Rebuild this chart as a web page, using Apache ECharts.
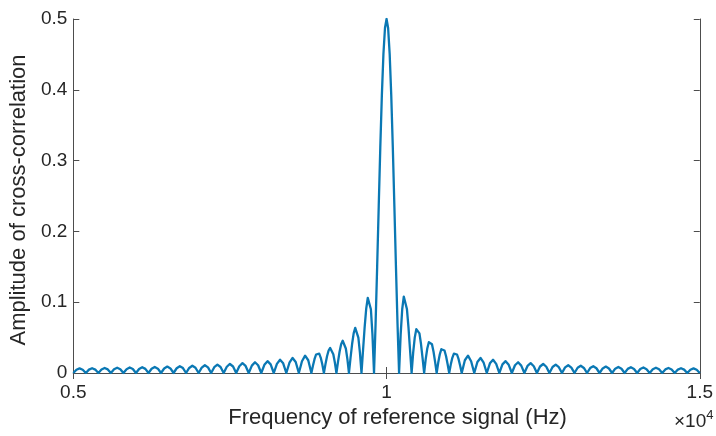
<!DOCTYPE html>
<html>
<head>
<meta charset="utf-8">
<script src="https://cdn.jsdelivr.net/npm/echarts@6/dist/echarts.min.js"></script>
<style>
  html, body { margin: 0; padding: 0; background: #fff; }
  #chart { width: 716px; height: 436px; }
</style>
</head>
<body>
<div id="chart"></div>
<script>
// Cross-correlation magnitude versus reference-signal frequency (Hz), one lobe per row.
const freqHz = [
  5000, 5050, 5100, 5150,
  5200, 5250, 5300, 5350,
  5400, 5450, 5500, 5550,
  5600, 5650, 5700, 5750,
  5800, 5850, 5900, 5950,
  6000, 6050, 6100, 6150,
  6200, 6250, 6300, 6350,
  6400, 6450, 6500, 6550,
  6600, 6650, 6700, 6750,
  6800, 6850, 6900, 6950,
  7000, 7050, 7100, 7150,
  7200, 7250, 7300, 7350,
  7400, 7450, 7500, 7550,
  7600, 7650, 7700, 7750,
  7800, 7850, 7900, 7950,
  8000, 8050, 8100, 8150,
  8200, 8250, 8300, 8350,
  8400, 8450, 8500, 8550,
  8600, 8650, 8700, 8750,
  8800, 8825, 8850, 8875, 8900, 8925, 8950, 8975,
  9000, 9025, 9050, 9075, 9100, 9125, 9150, 9175,
  9200, 9225, 9250, 9275, 9300, 9325, 9350, 9375,
  9400, 9425, 9450, 9475, 9500, 9525, 9550, 9575,
  9600, 9625, 9650, 9675, 9700, 9725, 9750, 9775,
  9800, 9825, 9850, 9875, 9900, 9925, 9950, 9975,
  10000, 10025, 10050, 10075, 10100, 10125, 10150, 10175,
  10200, 10225, 10250, 10275, 10300, 10325, 10350, 10375,
  10400, 10425, 10450, 10475, 10500, 10525, 10550, 10575,
  10600, 10625, 10650, 10675, 10700, 10725, 10750, 10775,
  10800, 10825, 10850, 10875, 10900, 10925, 10950, 10975,
  11000, 11025, 11050, 11075, 11100, 11125, 11150, 11175,
  11200, 11250, 11300, 11350,
  11400, 11450, 11500, 11550,
  11600, 11650, 11700, 11750,
  11800, 11850, 11900, 11950,
  12000, 12050, 12100, 12150,
  12200, 12250, 12300, 12350,
  12400, 12450, 12500, 12550,
  12600, 12650, 12700, 12750,
  12800, 12850, 12900, 12950,
  13000, 13050, 13100, 13150,
  13200, 13250, 13300, 13350,
  13400, 13450, 13500, 13550,
  13600, 13650, 13700, 13750,
  13800, 13850, 13900, 13950,
  14000, 14050, 14100, 14150,
  14200, 14250, 14300, 14350,
  14400, 14450, 14500, 14550,
  14600, 14650, 14700, 14750,
  14800, 14850, 14900, 14950,
  15000
];

const amplitude = [
  0, 0.004547, 0.006496, 0.004641,
  0, 0.004739, 0.006773, 0.004840,
  0, 0.004947, 0.007074, 0.005058,
  0, 0.005174, 0.007403, 0.005296,
  0, 0.005424, 0.007764, 0.005558,
  0, 0.005698, 0.008162, 0.005846,
  0, 0.006002, 0.008603, 0.006167,
  0, 0.006340, 0.009095, 0.006524,
  0, 0.006719, 0.009646, 0.006926,
  0, 0.007145, 0.010268, 0.007380,
  0, 0.007630, 0.010976, 0.007898,
  0, 0.008185, 0.011789, 0.008494,
  0, 0.008827, 0.012732, 0.009187,
  0, 0.009578, 0.013840, 0.010004,
  0, 0.010469, 0.015158, 0.010980,
  0, 0.011542, 0.016753, 0.012166,
  0, 0.012862, 0.018724, 0.013641,
  0, 0.01452, 0.021221, 0.01552,
  0, 0.01667, 0.024485, 0.01801,
  0, 0.01037, 0.01957, 0.02614, 0.028937, 0.02736, 0.02144, 0.01188,
  0, 0.01249, 0.02369, 0.03179, 0.035368, 0.03361, 0.02648, 0.01476,
  0, 0.01572, 0.03001, 0.04056, 0.045473, 0.04357, 0.03463, 0.01949,
  0, 0.02118, 0.04092, 0.05602, 0.063662, 0.06191, 0.05002, 0.02866,
  0, 0.03248, 0.06431, 0.09049, 0.106103, 0.10694, 0.09003, 0.05414,
  0, 0.06961, 0.15005, 0.23527, 0.31831, 0.39211, 0.45016, 0.48724,
  0.5, 0.48724, 0.45016, 0.39211, 0.31831, 0.23527, 0.15005, 0.06961,
  0, 0.05414, 0.09003, 0.10794, 0.10810, 0.09049, 0.06431, 0.03248,
  0, 0.02866, 0.05002, 0.06191, 0.063662, 0.05602, 0.04092, 0.02118,
  0, 0.01949, 0.03463, 0.04357, 0.045473, 0.04056, 0.03001, 0.01572,
  0, 0.01476, 0.02648, 0.03361, 0.035368, 0.03179, 0.02369, 0.01249,
  0, 0.01188, 0.02144, 0.02736, 0.028937, 0.02614, 0.01957, 0.01037,
  0, 0.01801, 0.024485, 0.01667,
  0, 0.01552, 0.021221, 0.01452,
  0, 0.013641, 0.018724, 0.012862,
  0, 0.012166, 0.016753, 0.011542,
  0, 0.010980, 0.015158, 0.010469,
  0, 0.010004, 0.013840, 0.009578,
  0, 0.009187, 0.012732, 0.008827,
  0, 0.008494, 0.011789, 0.008185,
  0, 0.007898, 0.010976, 0.007630,
  0, 0.007380, 0.010268, 0.007145,
  0, 0.006926, 0.009646, 0.006719,
  0, 0.006524, 0.009095, 0.006340,
  0, 0.006167, 0.008603, 0.006002,
  0, 0.005846, 0.008162, 0.005698,
  0, 0.005558, 0.007764, 0.005424,
  0, 0.005296, 0.007403, 0.005174,
  0, 0.005058, 0.007074, 0.004947,
  0, 0.004840, 0.006773, 0.004739,
  0, 0.004641, 0.006496, 0.004547,
  0
];

const xTickValues = [5000, 10000, 15000];
const yTickValues = [0, 0.1, 0.2, 0.3, 0.4, 0.5];

const xTitle = 'Frequency of reference signal (Hz)';
const yTitle = 'Amplitude of cross-correlation';
const xScaleNote = { base: '\u00d710', exp: '4' };

const FONT = '"Liberation Sans", Arial, Helvetica, sans-serif';
const AXIS_COLOR = '#4d4d4d';
const TEXT_COLOR = '#262626';
const LINE_COLOR = '#0a78b4';

const points = freqHz.map((f, i) => [f, amplitude[i]]);

const chart = echarts.init(document.getElementById('chart'), null, { renderer: 'canvas' });

const boxAxis = {
  axisLine: { show: true, lineStyle: { color: AXIS_COLOR, width: 1 } },
  axisTick: { show: true, inside: true, length: 6, lineStyle: { color: AXIS_COLOR, width: 1 } },
  splitLine: { show: false }
};

chart.setOption({
  backgroundColor: '#ffffff',
  animation: false,
  grid: { left: 73, top: 19, width: 629, height: 354, containLabel: false },
  xAxis: [
    Object.assign({
      type: 'value',
      min: xTickValues[0],
      max: xTickValues[xTickValues.length - 1],
      interval: xTickValues[1] - xTickValues[0],
      position: 'bottom',
      name: xTitle,
      nameLocation: 'middle',
      nameGap: 32,
      nameTextStyle: { fontFamily: FONT, fontSize: 22, color: TEXT_COLOR, padding: [0, 0, 0, 22] },
      axisLabel: {
        fontFamily: FONT, fontSize: 19, color: TEXT_COLOR, margin: 10,
        formatter: v => String(v / 10000)
      }
    }, boxAxis),
    Object.assign({
      type: 'value',
      min: xTickValues[0],
      max: xTickValues[xTickValues.length - 1],
      interval: xTickValues[1] - xTickValues[0],
      position: 'top',
      axisLabel: { show: false }
    }, boxAxis)
  ],
  yAxis: [
    Object.assign({
      type: 'value',
      min: yTickValues[0],
      max: yTickValues[yTickValues.length - 1],
      interval: 0.1,
      position: 'left',
      name: yTitle,
      nameLocation: 'middle',
      nameRotate: 90,
      nameGap: 32,
      nameTextStyle: { fontFamily: FONT, fontSize: 22, color: TEXT_COLOR, padding: [0, 8, 0, 0] },
      axisLabel: {
        fontFamily: FONT, fontSize: 19, color: TEXT_COLOR, margin: 6,
        formatter: v => (v === 0 ? '0' : v.toFixed(1))
      }
    }, boxAxis),
    Object.assign({
      type: 'value',
      min: yTickValues[0],
      max: yTickValues[yTickValues.length - 1],
      interval: 0.1,
      position: 'right',
      axisLabel: { show: false }
    }, boxAxis)
  ],
  graphic: [
    {
      type: 'text',
      left: 674,
      top: 409,
      style: {
        text: '{b|' + xScaleNote.base + '}{e|' + xScaleNote.exp + '}',
        rich: {
          b: { fontFamily: FONT, fontSize: 19, fill: TEXT_COLOR, verticalAlign: 'bottom', lineHeight: 22 },
          e: { fontFamily: FONT, fontSize: 13, fill: TEXT_COLOR, verticalAlign: 'top', lineHeight: 22, padding: [0, 0, 9, 0] }
        }
      }
    }
  ],
  series: [
    {
      type: 'line',
      xAxisIndex: 0,
      yAxisIndex: 0,
      data: points,
      showSymbol: false,
      symbol: 'none',
      smooth: false,
      clip: true,
      lineStyle: { color: LINE_COLOR, width: 2.3, join: 'round' }
    }
  ]
});
</script>
</body>
</html>
